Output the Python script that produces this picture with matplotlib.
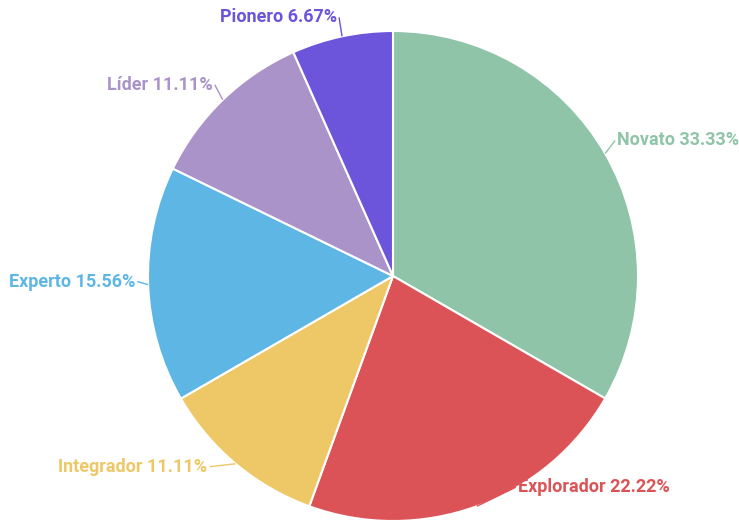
import numpy as np
import matplotlib.pyplot as plt

plt.rcParams['font.family'] = ['Roboto', 'DejaVu Sans']

labels = ['Novato', 'Explorador', 'Integrador', 'Experto', 'Líder', 'Pionero']
values = [33.33, 22.22, 11.11, 15.56, 11.11, 6.67]
colors = ['#8fc4a8', '#dc5357', '#eec867', '#5eb6e4', '#aa93c9', '#6c55db']

# label offsets from the slice edge (px, y up), picked to avoid overlaps
label_offsets = [(12, 13), (41, 19), (-28, -3), (-13, 3), (-10, 15), (-5, 19)]

W, H = 739, 523
fig = plt.figure(figsize=(W / 100, H / 100), dpi=100)
ax = fig.add_axes([0, 0, 1, 1])

cx, cy, r = 393, 247, 245
wedges, _ = ax.pie(values, colors=colors, startangle=90, counterclock=False,
                   center=(cx, cy), radius=r,
                   wedgeprops=dict(edgecolor='white', linewidth=1.5))
ax.set_xlim(0, W)
ax.set_ylim(0, H)
ax.set_aspect('equal')
ax.axis('off')

for w, lab, v, c, (dx, dy) in zip(wedges, labels, values, colors, label_offsets):
    ang = np.deg2rad((w.theta1 + w.theta2) / 2)
    x0, y0 = cx + r * np.cos(ang), cy + r * np.sin(ang)
    tx, ty = x0 + dx, y0 + dy
    right = dx >= 0
    xe = tx - (2 if right else -2)
    ax.plot([x0, xe], [y0, ty], color=c, lw=1, solid_capstyle='butt')
    ax.text(tx, ty, f'{lab} {v:.2f}%', color=c,
            fontsize=13, fontweight='bold', ha='left' if right else 'right',
            va='center')

fig.savefig('out.png', dpi=100)
